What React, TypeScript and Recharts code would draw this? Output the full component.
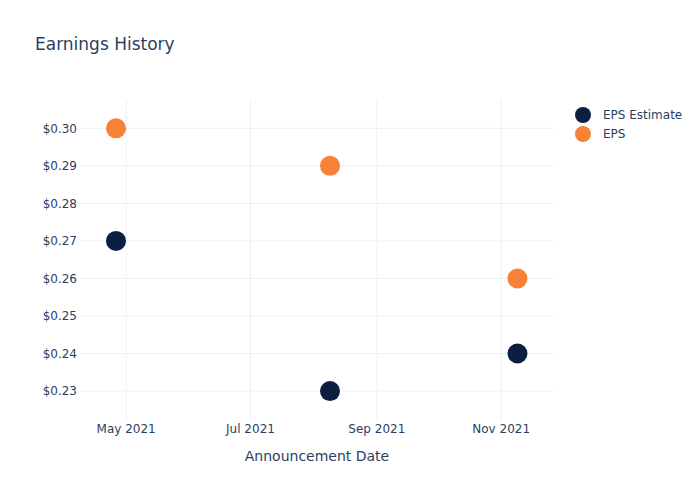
import React from 'react';
import { ScatterChart, Scatter, XAxis, YAxis, CartesianGrid } from 'recharts';

// ---- data ----
const announcementDates = ['2021-04-26', '2021-08-09', '2021-11-09'];
const epsEstimate = [0.27, 0.23, 0.24];
const epsActual = [0.30, 0.29, 0.26];

const seriesNames = ['EPS Estimate', 'EPS'];
const seriesColors = ['#0c1f43', '#f78236'];

const xTickDates = ['2021-05-01', '2021-07-01', '2021-09-01', '2021-11-01'];
const xTickLabels = ['May 2021', 'Jul 2021', 'Sep 2021', 'Nov 2021'];
const yTicks = [0.23, 0.24, 0.25, 0.26, 0.27, 0.28, 0.29, 0.30];

const toTs = (s: string) => {
  const [y, m, d] = s.split('-').map(Number);
  return Date.UTC(y, m - 1, d);
};

const estimateData = announcementDates.map((d, i) => ({ x: toTs(d), y: epsEstimate[i] }));
const epsData = announcementDates.map((d, i) => ({ x: toTs(d), y: epsActual[i] }));
const xTicks = xTickDates.map(toTs);
const xDomain = [Date.UTC(2021, 3, 8, 8), Date.UTC(2021, 10, 26, 22)];
const yDomain = [0.2223, 0.30754];

const FONT = '"DejaVu Sans", Verdana, sans-serif';
const TEXT = '#2a3f5f';

const dot = (color: string) => (props: any) => (
  <circle cx={props.cx} cy={props.cy} r={10} fill={color} />
);

// grid lines only at tick positions (no border lines at plot edges)
const vGen = (p: any) => {
  const o = p?.offset;
  if (!o) return [];
  return xTicks.map((t) => o.left + ((t - xDomain[0]) / (xDomain[1] - xDomain[0])) * o.width);
};
const hGen = (p: any) => {
  const o = p?.offset;
  if (!o) return [];
  return yTicks.map((t) => o.top + ((yDomain[1] - t) / (yDomain[1] - yDomain[0])) * o.height);
};

export default function App() {
  return (
    <div style={{ position: 'absolute', left: 0, top: 0, width: 700, height: 500, background: '#fff', fontFamily: FONT }}>
      <div style={{ position: 'absolute', left: 35, top: 35.6, fontSize: 17, lineHeight: '17px', color: TEXT, whiteSpace: 'nowrap' }}>
        Earnings History
      </div>
      <ScatterChart width={700} height={500} margin={{ top: 100, right: 146, bottom: 39, left: 8 }}>
        <CartesianGrid
          stroke="#ebf0f8"
          strokeWidth={1}
          verticalCoordinatesGenerator={vGen}
          horizontalCoordinatesGenerator={hGen}
        />
        <XAxis
          type="number"
          dataKey="x"
          domain={xDomain}
          allowDataOverflow
          ticks={xTicks}
          interval={0}
          tickFormatter={(v: number) => xTickLabels[xTicks.indexOf(v)] ?? ''}
          axisLine={false}
          tickLine={false}
          tickSize={0}
          tickMargin={4}
          height={41}
          tick={{ fill: TEXT, fontSize: 12, fontFamily: FONT }}
          label={{ value: 'Announcement Date', position: 'insideBottom', offset: 0, fill: TEXT, fontSize: 14, fontFamily: FONT }}
        />
        <YAxis
          type="number"
          dataKey="y"
          domain={yDomain}
          allowDataOverflow
          ticks={yTicks}
          interval={0}
          tickFormatter={(v: number) => '$' + v.toFixed(2)}
          axisLine={false}
          tickLine={false}
          tickSize={0}
          tickMargin={3}
          width={72}
          tick={{ fill: TEXT, fontSize: 12, fontFamily: FONT }}
        />
        <Scatter name={seriesNames[0]} data={estimateData} fill={seriesColors[0]} shape={dot(seriesColors[0])} isAnimationActive={false} />
        <Scatter name={seriesNames[1]} data={epsData} fill={seriesColors[1]} shape={dot(seriesColors[1])} isAnimationActive={false} />
      </ScatterChart>
      {seriesNames.map((name, i) => (
        <div key={name} style={{ position: 'absolute', left: 575, top: 107 + i * 19, height: 16, display: 'flex', alignItems: 'center', whiteSpace: 'nowrap' }}>
          <span style={{ width: 16, height: 16, borderRadius: 8, background: seriesColors[i], display: 'inline-block' }} />
          <span style={{ marginLeft: 12, fontSize: 12, color: TEXT }}>{name}</span>
        </div>
      ))}
    </div>
  );
}
